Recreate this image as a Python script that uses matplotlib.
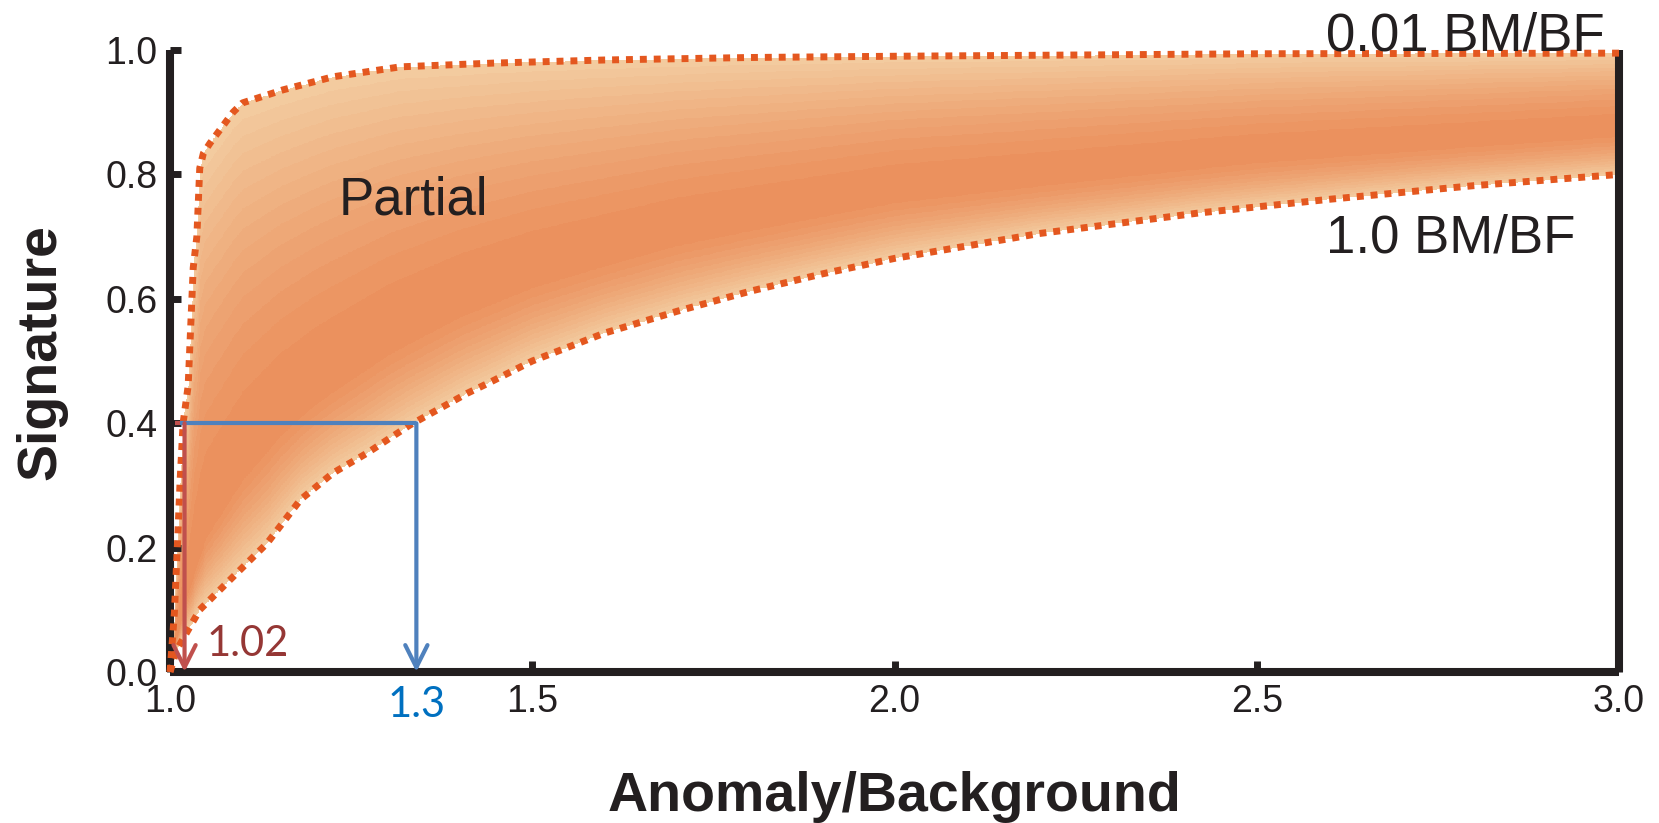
import matplotlib
matplotlib.use("Agg")
import matplotlib.pyplot as plt
import numpy as np
from matplotlib.colors import LinearSegmentedColormap

# upper bound of the family (0.01 BM/BF)
upper_x = [1.0, 1.006, 1.01, 1.014, 1.018, 1.025, 1.032, 1.037, 1.041, 1.046, 1.055,
           1.087, 1.10, 1.156, 1.225, 1.318, 1.446, 1.6, 1.8, 2.0, 2.5, 3.0]
upper_y = [0.0, 0.095, 0.20, 0.31, 0.40, 0.46, 0.65, 0.70, 0.81, 0.834, 0.85,
           0.90, 0.915, 0.936, 0.957, 0.973, 0.979, 0.984, 0.988, 0.99, 0.994, 0.995]

# lower bound (1.0 BM/BF)
lower_x = [1.0, 1.009, 1.041, 1.087, 1.134, 1.18, 1.225, 1.272, 1.331, 1.41, 1.442,
           1.5, 1.6, 1.7, 1.8, 1.9, 2.0, 2.2, 2.42, 2.6, 2.8, 3.0]
lower_y = [0.0, 0.035, 0.10, 0.153, 0.207, 0.277, 0.32, 0.352, 0.397, 0.448, 0.466,
           0.50, 0.545, 0.58, 0.612, 0.64, 0.665, 0.705, 0.738, 0.76, 0.782, 0.80]

# densest part of the partial-mixing family
core_x = [1.0, 1.02, 1.05, 1.1, 1.15, 1.2, 1.3, 1.4, 1.5, 1.7, 2.0, 2.5, 3.0]
core_y = [0.0, 0.12, 0.24, 0.34, 0.41, 0.46, 0.54, 0.60, 0.645, 0.71, 0.775, 0.835, 0.875]

x_ticks = [1.0, 1.5, 2.0, 2.5, 3.0]
y_ticks = [0.0, 0.2, 0.4, 0.6, 0.8, 1.0]

sig_level = 0.4
red_x = 1.02
blue_x = 1.34

plt.rcParams["font.family"] = ["Liberation Sans", "DejaVu Sans"]
ink = "#231F20"
dot_col = "#E4571F"

fig = plt.figure(figsize=(16.59, 8.23), dpi=100)
ax = fig.add_axes([0.1025, 0.1835, 0.8734, 0.7557])
ax.set_xlim(1, 3)
ax.set_ylim(0, 1)

# shaded band: dark at the core, light towards both bounds
gx = np.linspace(1, 3, 1600)
gy = np.linspace(0, 1, 900)[:, None]
up = np.interp(gx, upper_x, upper_y)
lo = np.interp(gx, lower_x, lower_y)
co = np.interp(gx, core_x, core_y)
t_up = (gy - co) / np.maximum(up - co, 1e-6)
t_lo = (co - gy) / np.maximum(co - lo, 1e-6)
t = np.clip(np.where(gy >= co, t_up, t_lo), 0, 1)
v = 1 - t ** 1.6
v = np.floor(v * 14) / 14
inside = (gy <= up) & (gy >= lo)
shade = np.ma.masked_where(~inside, v)
cmap = LinearSegmentedColormap.from_list("band", ["#F3CB9F", "#EFAD7D", "#EB8D5A"])
ax.imshow(shade, extent=(1, 3, 0, 1), origin="lower", aspect="auto",
          cmap=cmap, vmin=0, vmax=1, interpolation="nearest", zorder=1)

ax.plot(upper_x, upper_y, color=dot_col, lw=5, ls=(0, (1, 1)), zorder=3, clip_on=False)
ax.plot(lower_x, lower_y, color=dot_col, lw=5, ls=(0, (1, 1)), zorder=3, clip_on=False)

# read-off arrows
ax.plot([1.007, red_x], [sig_level, sig_level], color="#C0504D", lw=3, zorder=4,
        solid_capstyle="butt")
ax.plot([1.014, blue_x], [sig_level, sig_level], color="#4F81BD", lw=3, zorder=4,
        solid_capstyle="butt")
for xv, col in [(red_x, "#C0504D"), (blue_x, "#4F81BD")]:
    ax.annotate("", xy=(xv, 0.0), xytext=(xv, sig_level),
                arrowprops=dict(arrowstyle="->", lw=3, color=col, mutation_scale=40,
                                shrinkA=0, shrinkB=0), zorder=4)
ax.text(1.05, 0.026, f"{red_x:.2f}", color="#953735", fontsize=30,
        family=["Lato", "DejaVu Sans"], ha="left", va="baseline")
ax.text(blue_x, -0.072, f"{blue_x:.1f}", color="#0070C0", fontsize=30,
        family=["Lato", "DejaVu Sans"], ha="center", va="baseline", clip_on=False)

ax.text(1.233, 0.735, "Partial", fontsize=38, color=ink, ha="left", va="baseline")
ax.text(2.595, 0.675, "1.0 BM/BF", fontsize=38, color=ink, ha="left", va="baseline")
ax.text(2.595, 1.0, "0.01 BM/BF", fontsize=38, color=ink, ha="left", va="baseline",
        clip_on=False)

for side in ["left", "bottom", "right"]:
    ax.spines[side].set_linewidth(5.8)
    ax.spines[side].set_color(ink)
    ax.spines[side].set_capstyle("butt")
ax.spines["top"].set_visible(False)

ax.set_xticks(x_ticks)
ax.set_xticklabels([f"{v:.1f}" for v in x_ticks])
ax.set_yticks(y_ticks)
ax.set_yticklabels([f"{v:.1f}" for v in y_ticks])
ax.tick_params(axis="both", direction="in", length=8, width=5, color=ink,
               labelsize=27, labelcolor=ink)
ax.tick_params(axis="x", pad=9)
ax.tick_params(axis="y", pad=9)

ax.set_xlabel("Anomaly/Background", fontsize=40, fontweight="bold", color=ink, va="baseline")
ax.xaxis.set_label_coords(0.5, -0.2235)
ax.set_ylabel("Signature", fontsize=40, fontweight="bold", color=ink, va="baseline")
ax.yaxis.set_label_coords(-0.0794, 0.514)

fig.savefig("out.png", dpi=100)
